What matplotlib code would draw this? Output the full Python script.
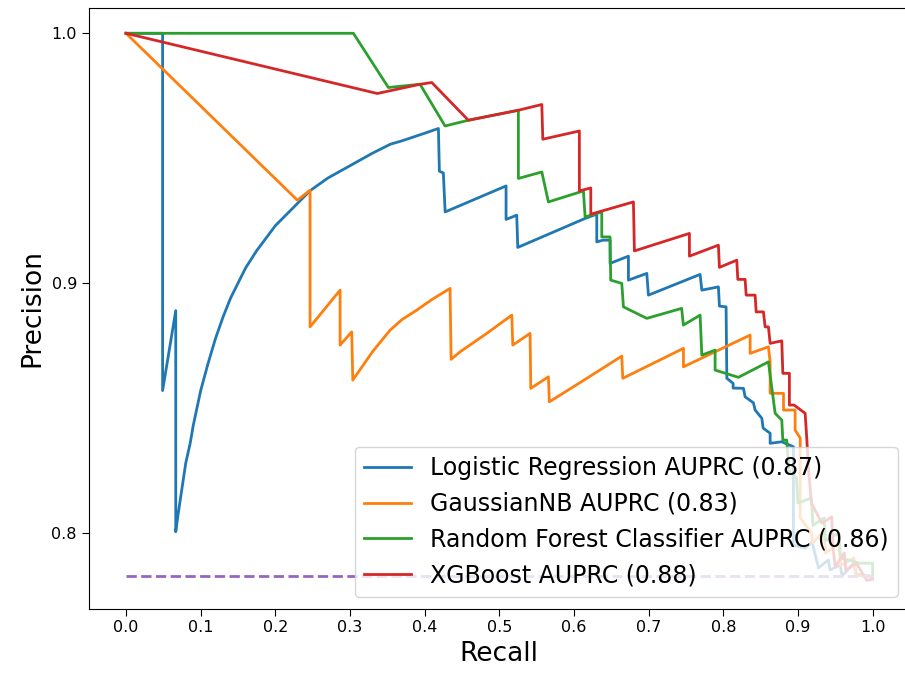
import numpy as np
import matplotlib
matplotlib.use('Agg')
import matplotlib.pyplot as plt

# precision-recall curves
lr_recall = [0.0, 0.049, 0.049, 0.0666, 0.0666, 0.070, 0.075, 0.080, 0.086, 0.090, 0.100,
             0.110, 0.115, 0.120, 0.130, 0.140, 0.150, 0.160, 0.175, 0.190, 0.200, 0.220,
             0.2465, 0.270, 0.300, 0.330, 0.354, 0.370, 0.390, 0.400, 0.4184, 0.4197, 0.425,
             0.4274, 0.509, 0.509, 0.5233, 0.5247, 0.6149, 0.6305, 0.6305, 0.6386, 0.6483,
             0.6483, 0.6729, 0.6729, 0.6975, 0.6997, 0.7689, 0.7712, 0.7934, 0.7948, 0.8037,
             0.8047, 0.8131, 0.8131, 0.827, 0.8292, 0.8403, 0.8426, 0.8516, 0.8533, 0.8627,
             0.8627, 0.8783, 0.8939, 0.8939, 0.9096, 0.919, 0.9274, 0.9408, 0.943, 0.9565,
             0.959, 0.975, 0.978, 1.0]
lr_precision = [1.0, 1.0, 0.857, 0.889, 0.8005, 0.808, 0.818, 0.828, 0.836, 0.843, 0.857,
                0.868, 0.873, 0.878, 0.8865, 0.894, 0.900, 0.906, 0.913, 0.919, 0.923, 0.929,
                0.937, 0.942, 0.947, 0.952, 0.9556, 0.957, 0.959, 0.960, 0.9619, 0.9448, 0.9441,
                0.9285, 0.9389, 0.9255, 0.9272, 0.9143, 0.9259, 0.9276, 0.9165, 0.9172, 0.9172,
                0.9079, 0.9108, 0.9012, 0.9039, 0.8952, 0.9035, 0.8972, 0.8985, 0.8908, 0.8905,
                0.8619, 0.8599, 0.858, 0.8579, 0.8545, 0.8521, 0.8492, 0.8459, 0.842, 0.8399,
                0.8359, 0.8365, 0.8345, 0.7952, 0.7939, 0.7964, 0.786, 0.7892, 0.7852, 0.7872,
                0.7828, 0.788, 0.7835, 0.7826]

nb_recall = [0.0, 0.2295, 0.2465, 0.2465, 0.2867, 0.2867, 0.3023, 0.3037, 0.330, 0.3537,
             0.370, 0.3894, 0.410, 0.434, 0.4354, 0.4474, 0.4832, 0.5167, 0.518, 0.5412,
             0.5421, 0.5657, 0.567, 0.6172, 0.664, 0.6653, 0.7466, 0.7466, 0.8359, 0.8359,
             0.8604, 0.8627, 0.8627, 0.8806, 0.8806, 0.8962, 0.8962, 0.903, 0.903, 0.918,
             0.920, 0.935, 0.937, 0.955, 0.957, 0.975, 0.977, 1.0]
nb_precision = [1.0, 0.9332, 0.9372, 0.8825, 0.8972, 0.8752, 0.8805, 0.8612, 0.8725, 0.8812,
                0.8855, 0.8892, 0.8935, 0.8979, 0.8695, 0.8725, 0.8799, 0.8872, 0.8752, 0.8799,
                0.8579, 0.8625, 0.8525, 0.8619, 0.8708, 0.8619, 0.8739, 0.8665, 0.8792, 0.8719,
                0.8745, 0.8685, 0.8559, 0.8559, 0.8492, 0.8492, 0.8412, 0.838, 0.806, 0.800,
                0.796, 0.801, 0.792, 0.796, 0.787, 0.790, 0.783, 0.7826]

rf_recall = [0.0, 0.3045, 0.3514, 0.3938, 0.4273, 0.4585, 0.5255, 0.5255, 0.5569, 0.5657,
             0.6126, 0.6149, 0.6372, 0.6372, 0.6483, 0.6492, 0.664, 0.6662, 0.6975, 0.7442,
             0.7465, 0.7689, 0.7712, 0.789, 0.789, 0.8202, 0.8604, 0.8604, 0.8694, 0.8783,
             0.8797, 0.8849, 0.888, 0.898, 0.900, 0.918, 0.920, 0.935, 0.937, 0.955, 0.957,
             0.983, 1.0, 1.0]
rf_precision = [1.0, 1.0, 0.9783, 0.9796, 0.9629, 0.9652, 0.9692, 0.9419, 0.9445, 0.9325,
                0.9369, 0.9265, 0.9285, 0.9185, 0.9185, 0.9012, 0.8999, 0.8905, 0.8859, 0.8899,
                0.8832, 0.8872, 0.8712, 0.8732, 0.8652, 0.8623, 0.8685, 0.8685, 0.8479, 0.8452,
                0.8372, 0.8372, 0.825, 0.822, 0.812, 0.814, 0.803, 0.806, 0.797, 0.800, 0.790,
                0.7879, 0.7879, 0.7832]

xgb_recall = [0.0, 0.3366, 0.3938, 0.4095, 0.4585, 0.5255, 0.5569, 0.5582, 0.6072, 0.6072,
              0.6225, 0.6225, 0.6796, 0.6809, 0.7546, 0.7546, 0.7934, 0.7948, 0.818, 0.8194,
              0.8292, 0.8306, 0.8426, 0.844, 0.8537, 0.856, 0.8604, 0.8627, 0.8783, 0.8797,
              0.8885, 0.8885, 0.8948, 0.9096, 0.9119, 0.914, 0.918, 0.932, 0.9453, 0.9465,
              0.9499, 0.962, 0.964, 0.978, 0.992, 1.0]
xgb_precision = [1.0, 0.9759, 0.9796, 0.9803, 0.9652, 0.9692, 0.9715, 0.9576, 0.9609, 0.9369,
                 0.9381, 0.9276, 0.9325, 0.9129, 0.9199, 0.9108, 0.9152, 0.9063, 0.9092, 0.9015,
                 0.9015, 0.8952, 0.8952, 0.8885, 0.8885, 0.8825, 0.8825, 0.8759, 0.8769, 0.8639,
                 0.8639, 0.8512, 0.8512, 0.8479, 0.8372, 0.826, 0.812, 0.8039, 0.8065, 0.795,
                 0.7865, 0.792, 0.785, 0.788, 0.781, 0.7815]

labels = ['Logistic Regression AUPRC (0.87)', 'GaussianNB AUPRC (0.83)',
          'Random Forest Classifier AUPRC (0.86)', 'XGBoost AUPRC (0.88)']
no_skill = 0.7826

fig = plt.figure(figsize=(9.05, 6.77), dpi=100)
ax = fig.add_axes([0.098, 0.1009, 0.9075, 0.8872])

ax.plot(lr_recall, lr_precision, lw=2, label=labels[0])
ax.plot(nb_recall, nb_precision, lw=2, label=labels[1])
ax.plot(rf_recall, rf_precision, lw=2, label=labels[2])
ax.plot(xgb_recall, xgb_precision, lw=2, label=labels[3])
ax.plot([0, 1], [no_skill, no_skill], '--', lw=2, color='C4')

ax.set_xlim(-0.05, 1.05)
ax.set_ylim(0.7697, 1.0101)
ax.set_xticks(np.arange(0, 1.01, 0.1))
ax.set_yticks([0.8, 0.9, 1.0])
ax.tick_params(labelsize=11.5, length=5)
ax.spines['right'].set_visible(False)  # cut off in the original screenshot
ax.set_xlabel('Recall', fontsize=19)
ax.set_ylabel('Precision', fontsize=19)
ax.legend(loc='lower right', fontsize=17)

fig.savefig('out.png', dpi=100)
